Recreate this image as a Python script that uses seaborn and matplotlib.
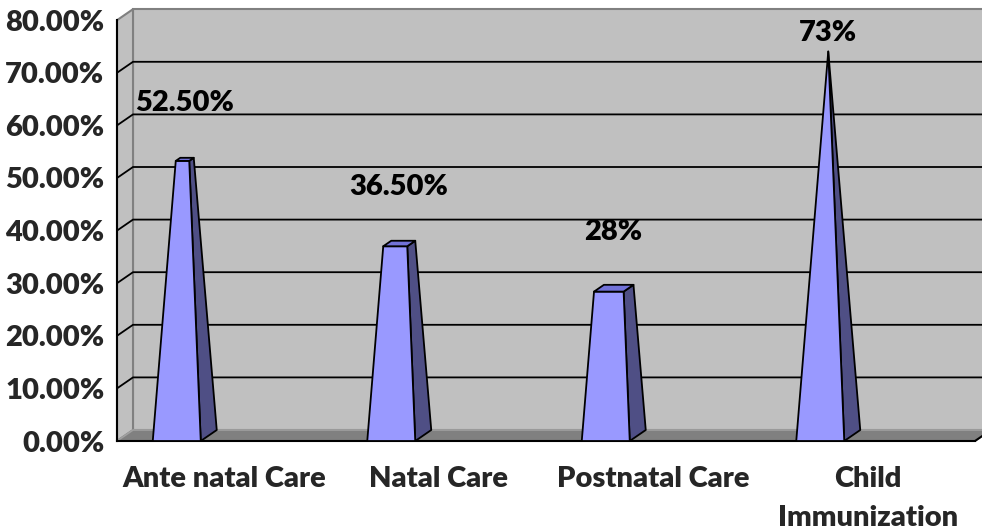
import numpy as np
import matplotlib
matplotlib.use("Agg")
import matplotlib.pyplot as plt
from matplotlib.ticker import PercentFormatter
import seaborn as sns

# data
categories = ["Ante natal Care", "Natal Care", "Postnatal Care", "Child\nImmunization"]
values = [0.525, 0.365, 0.28, 0.73]
value_labels = ["52.50%", "36.50%", "28%", "73%"]
y_ticks = [0.0, 0.1, 0.2, 0.3, 0.4, 0.5, 0.6, 0.7, 0.8]

sns.set_style("white")
plt.rcParams["font.family"] = ["Lato", "DejaVu Sans"]
plt.rcParams["font.weight"] = "heavy"
FS = 21
WT = "heavy"

W, H = 982, 530
fig = plt.figure(figsize=(W / 100, H / 100), dpi=100)
# front plane of the 3d box, in pixels
x0, x1, yb, yt = 117, 975, 441, 20.2
ax = fig.add_axes([x0 / W, (H - yb) / H, (x1 - x0) / W, (yb - yt) / H])

# seaborn barplot only to build the categorical axis (bars hidden)
sns.barplot(x=list(range(len(values))), y=values, ax=ax, color="#9999ff", alpha=0)
ax.set_xlim(-0.5, 3.5)
ax.set_ylim(0, 0.8)

# 3d depth offset in data units (16px right, 11px up)
dx = 16 * 4 / (x1 - x0)
dy = 11 * 0.8 / (yb - yt)

wall = "#c0c0c0"
edge = "#808080"
kw = dict(clip_on=False)

# back wall
ax.fill([-0.5 + dx, 3.5 + dx, 3.5 + dx, -0.5 + dx], [dy, dy, 0.8 + dy, 0.8 + dy],
        facecolor=wall, edgecolor=edge, lw=1.5, zorder=1, **kw)
# left wall
ax.fill([-0.5, -0.5 + dx, -0.5 + dx, -0.5], [0, dy, 0.8 + dy, 0.8],
        facecolor=wall, edgecolor=edge, lw=1.5, zorder=1, **kw)
# gridlines on back + left wall
for t in y_ticks[1:-1]:
    ax.plot([-0.5, -0.5 + dx, 3.5 + dx], [t, t + dy, t + dy], color="black", lw=1.3, zorder=2, **kw)
# floor
ax.fill([-0.5, 3.5, 3.5 + dx, -0.5 + dx], [0, 0, dy, dy],
        facecolor="#808080", edgecolor="#a0a0a0", lw=1.2, zorder=2, **kw)
ax.plot([3.5, 3.5 + dx], [0, dy], color="black", lw=1.5, zorder=3, **kw)

# truncated pyramids
hw0 = 24 * 4 / (x1 - x0)
shift = -47.5 * 4 / (x1 - x0)
apex = max(values)


def proj(x, v, z):
    return x + z * dx, v + z * dy


for i, v in enumerate(values):
    c = i + shift
    f = 1 - v / apex
    hw = hw0 * f
    hz = 0.5 * f
    fbl = proj(c - hw0, 0, 0)
    fbr = proj(c + hw0, 0, 0)
    bbr = proj(c + hw0, 0, 1)
    ftl = proj(c - hw, v, 0.5 - hz)
    ftr = proj(c + hw, v, 0.5 - hz)
    btr = proj(c + hw, v, 0.5 + hz)
    btl = proj(c - hw, v, 0.5 + hz)
    side = [fbr, bbr, btr, ftr]
    front = [fbl, fbr, ftr, ftl]
    top = [ftl, ftr, btr, btl]
    for poly, col in [(side, "#4f4f85"), (front, "#9999ff"), (top, "#7272d8")]:
        xs, ys = zip(*poly)
        ax.fill(xs, ys, facecolor=col, edgecolor="black", lw=1.3, zorder=5, joinstyle="round", **kw)
    ax.text(i - 0.185, min(v + 0.118, 0.775), value_labels[i], ha="center", va="center",
            fontsize=FS, fontweight=WT, color="black", zorder=6)

# axes styling
for s in ["top", "right"]:
    ax.spines[s].set_visible(False)
for s in ["left", "bottom"]:
    ax.spines[s].set_color("black")
    ax.spines[s].set_linewidth(1.5)
    ax.spines[s].set_zorder(4)

ax.set_yticks(y_ticks)
ax.yaxis.set_major_formatter(PercentFormatter(1, decimals=2))
ax.tick_params(axis="y", direction="out", length=4, width=1.3, color="black", pad=5,
               labelsize=FS)
ax.set_xticks(range(len(categories)))
ax.set_xticklabels(categories)
ax.set_xticks([-0.5, 0.5, 1.5, 2.5, 3.5], minor=True)
ax.tick_params(axis="x", which="major", length=0, pad=18, labelsize=FS)
ax.tick_params(axis="x", which="minor", direction="out", length=6, width=1.3, color="black")
for lab in ax.get_xticklabels():
    lab.set_fontweight(WT)
    lab.set_linespacing(1.6)
for lab in ax.get_yticklabels():
    lab.set_fontweight(WT)
ax.set_xlabel("")
ax.set_ylabel("")
ax.patch.set_visible(False)

fig.savefig("out.png", dpi=100, facecolor="white")
